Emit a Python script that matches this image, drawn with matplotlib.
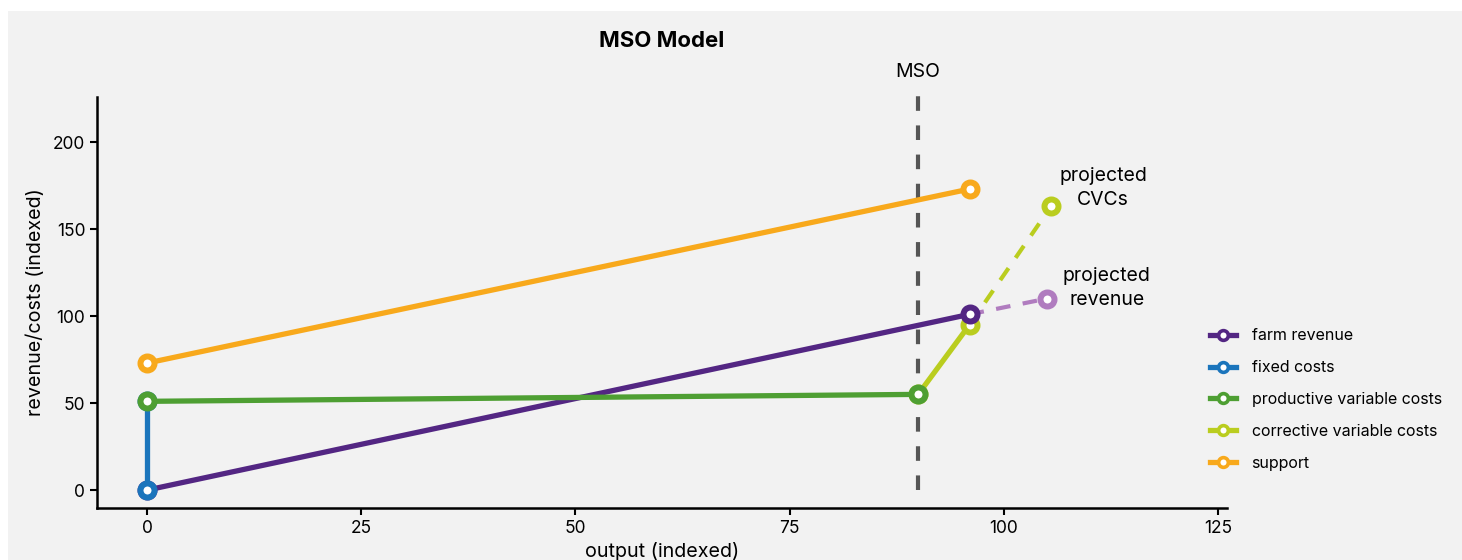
import matplotlib
matplotlib.use("Agg")
import matplotlib.pyplot as plt
from matplotlib.patches import Rectangle

plt.rcParams['font.family'] = ['Inter', 'DejaVu Sans']

# Data
revenue_x = [0, 96]
revenue_y = [0, 101]
fixed_x = [0, 0]
fixed_y = [0, 51]
pvc_x = [0, 90]
pvc_y = [51, 55]
cvc_x = [90, 96]
cvc_y = [55, 95]
support_x = [0, 96]
support_y = [73, 173]
proj_cvc_x = [96, 105.5]
proj_cvc_y = [95, 163]
proj_rev_x = [96, 105]
proj_rev_y = [101, 110]
mso_x = 90

series_names = ["farm revenue", "fixed costs", "productive variable costs",
                "corrective variable costs", "support"]
colors = {"farm revenue": "#532683", "fixed costs": "#1b75bc",
          "productive variable costs": "#4e9f33",
          "corrective variable costs": "#bacd1f", "support": "#f8a91c"}
proj_rev_color = "#b07cbf"

fig = plt.figure(figsize=(14.62, 5.6), dpi=100, facecolor="white")
fig.patches.append(Rectangle((8/1462, 0), 1, 549/560, transform=fig.transFigure,
                             facecolor="#f2f2f2", edgecolor="none", zorder=-10))
ax = fig.add_axes([97/1462, (560-508)/560, (1227-97)/1462, (508-97)/560])
ax.set_facecolor("#f2f2f2")
ax.set_zorder(1)

lw = 3.8
mk = dict(marker="o", markersize=10.1, markerfacecolor="white", markeredgewidth=4.3)

ax.plot([mso_x, mso_x], [0, 229], linestyle=(0, (3.5, 3.5)), color="#444444",
        lw=3, alpha=0.9, clip_on=False, zorder=1)
ax.text(mso_x, 240, "MSO", ha="center", va="center", fontsize=14)

ax.plot(proj_cvc_x, proj_cvc_y, linestyle=(0, (3.5, 3)), color=colors["corrective variable costs"],
        lw=3, zorder=2)
ax.plot(proj_cvc_x[1:], proj_cvc_y[1:], color=colors["corrective variable costs"], lw=0, zorder=6, **mk)
ax.plot(proj_rev_x, proj_rev_y, linestyle=(0, (3.5, 3)), color=proj_rev_color, lw=3, zorder=2)
ax.plot(proj_rev_x[1:], proj_rev_y[1:], color=proj_rev_color, lw=0, zorder=6, **mk)

data = {"farm revenue": (revenue_x, revenue_y), "fixed costs": (fixed_x, fixed_y),
        "productive variable costs": (pvc_x, pvc_y),
        "corrective variable costs": (cvc_x, cvc_y), "support": (support_x, support_y)}
zorders = {"farm revenue": 3, "fixed costs": 4, "productive variable costs": 5,
           "corrective variable costs": 2.5, "support": 5}
for name in series_names:
    xs, ys = data[name]
    ax.plot(xs, ys, color=colors[name], lw=lw, label=name, zorder=zorders[name], **mk)

ax.text(111.6, 173.5, "projected\nCVCs", ha="center", va="center", fontsize=14, linespacing=1.4)
ax.text(112, 116, "projected\nrevenue", ha="center", va="center", fontsize=14, linespacing=1.4)

ax.set_xlim(-5.85, 126.05)
ax.set_ylim(-10.3, 225.9)
ax.set_xticks([0, 25, 50, 75, 100, 125])
ax.set_yticks([0, 50, 100, 150, 200])
ax.tick_params(labelsize=12.5, width=1.5, length=5, color="black")
for s in ["top", "right"]:
    ax.spines[s].set_visible(False)
for s in ["left", "bottom"]:
    ax.spines[s].set_linewidth(1.8)
ax.set_xlabel("output (indexed)", fontsize=14.2, labelpad=4)
ax.set_ylabel("revenue/costs (indexed)", fontsize=14.2, labelpad=6)
ax.set_title("MSO Model", fontsize=16, fontweight="bold", pad=36)

leg = ax.legend(loc="center left", bbox_to_anchor=(1.0 - 23/1130, 0.264), frameon=False,
                fontsize=11.5, handlelength=1.63, labelspacing=1.05, handletextpad=0.95,
                borderaxespad=0)
for h in leg.legend_handles:
    h.set_markersize(7)
    h.set_markeredgewidth(2.6)

fig.savefig("out.png", dpi=100, facecolor=fig.get_facecolor())
